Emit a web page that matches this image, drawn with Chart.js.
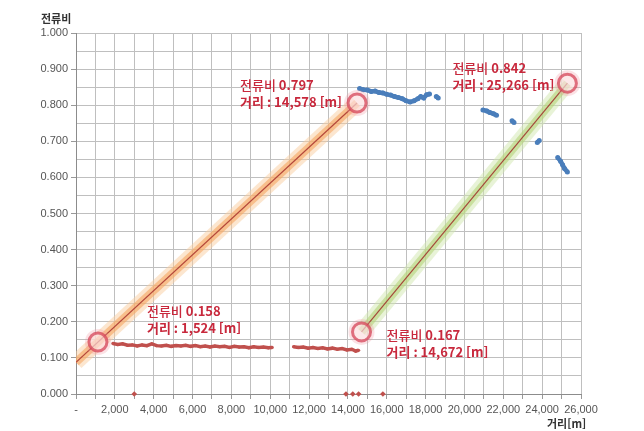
<!DOCTYPE html>
<html lang="ko">
<head>
    <meta charset="UTF-8">
    <title>전류비 - 거리</title>
    <style>
        html, body { margin: 0; padding: 0; background: #fff; }
        #wrap { width: 644px; height: 431px; }
    </style>
</head>
<body>
    <div id="wrap"><canvas id="chart" width="644" height="431"></canvas></div>

    <script src="https://cdn.jsdelivr.net/npm/chart.js"></script>
    <script>
        // 전류비 측정값 (빨강: 전반부, 파랑: 후반부)
        const redX = [1900, 2150, 2400, 2650, 2900, 3150, 3400, 3650, 3900, 4150, 4400, 4650, 4900, 5150, 5400, 5650, 5900,
            6150, 6400, 6650, 6900, 7150, 7400, 7650, 7900, 8150, 8400, 8650, 8900, 9150, 9400, 9650, 9900, 10100,
            10600,
            11200, 11450, 11700, 11950, 12200, 12450, 12700, 12950, 13200, 13450, 13700, 13950, 14200, 14400, 14550];
        const redY = [0.140, 0.137, 0.139, 0.135, 0.136, 0.133, 0.136, 0.134, 0.139, 0.134, 0.133, 0.135, 0.132, 0.134, 0.133, 0.135, 0.132,
            0.134, 0.131, 0.133, 0.130, 0.133, 0.131, 0.132, 0.129, 0.132, 0.130, 0.131, 0.128, 0.131, 0.129, 0.130, 0.128, 0.129,
            null,
            0.131, 0.129, 0.130, 0.127, 0.129, 0.126, 0.128, 0.125, 0.127, 0.124, 0.126, 0.122, 0.124, 0.119, 0.121];

        const zeroX = [3000, 13900, 14250, 14550, 15800];
        const zeroY = [0, 0, 0, 0, 0];

        const blueX = [14600, 14800, 15000, 15200, 15400, 15600, 15800, 16000, 16200, 16400, 16600, 16800, 17000, 17200, 17400,
            17600, 17750, 17900, 18050, 18200, 18400, 18550, 18650,
            19800, 20950, 21150, 21300, 21500, 21650, 22100, 22450, 22550, 23200, 23750, 23850, 24300, 24800, 24950, 25050, 25150, 25300];
        const blueY = [0.846, 0.843, 0.842, 0.838, 0.839, 0.835, 0.834, 0.830, 0.828, 0.824, 0.821, 0.818, 0.812, 0.809, 0.812,
            0.818, 0.824, 0.820, 0.829, 0.831, null, 0.824, 0.820,
            null, 0.787, 0.784, 0.780, 0.776, 0.772, null, 0.757, 0.752, null, 0.697, 0.702, null, 0.655, 0.645, 0.635, 0.625, 0.615];

        // 표시선 (시작점/끝점)
        const orangeX = [0, 14470];
        const orangeY = [0.088, 0.806];
        const greenX = [14700, 25300];
        const greenY = [0.172, 0.861];

        // 표시점과 설명
        const markX = [1130, 14470, 14700, 25300];
        const markY = [0.144, 0.806, 0.172, 0.861];
        const markRatio = ['0.158', '0.797', '0.167', '0.842'];
        const markDist = ['1,524', '14,578', '14,672', '25,266'];

        const xTickStep = 1000;
        const yTickStep = 0.05;

        const pts = (xs, ys) => xs.map((x, i) => ({ x: x, y: ys[i] }));

        const cjk = '"Noto Sans CJK KR", "Noto Sans", sans-serif';
        const red = '#c8283c';

        // 설명 글자 위치 (표시점 기준 px)
        const labelOffset = [[49, -31], [-117, -18], [25, 3], [-115, -15]];

        const textPlugin = {
            id: 'notes',
            beforeDatasetsDraw(chart) {
                const c = chart.ctx;
                const sx = chart.scales.x, sy = chart.scales.y;
                c.save();
                c.fillStyle = red;
                c.textBaseline = 'middle';
                markX.forEach((mx, i) => {
                    const px = sx.getPixelForValue(mx) + labelOffset[i][0];
                    const py = sy.getPixelForValue(markY[i]) + labelOffset[i][1];
                    c.font = '500 13px ' + cjk;
                    c.fillText('전류비 ', px, py);
                    const w = c.measureText('전류비 ').width;
                    c.font = 'bold 13px ' + cjk;
                    c.fillText(markRatio[i], px + w, py);
                    c.fillText('거리 : ' + markDist[i] + ' [m]', px, py + 17);
                });
                c.restore();
            },
            afterDraw(chart) {
                const c = chart.ctx;
                c.save();
                c.fillStyle = '#333';
                c.font = 'bold 11px ' + cjk;
                c.textBaseline = 'middle';
                c.textAlign = 'left';
                c.fillText('전류비', 41, 19);
                c.fillText('거리[m]', 547, 424);
                c.restore();
            }
        };

        new Chart(document.getElementById('chart'), {
            type: 'scatter',
            data: {
                datasets: [
                    {
                        data: pts(markX, markY),
                        showLine: false,
                        pointRadius: 9,
                        pointBorderWidth: 3,
                        pointBorderColor: 'rgba(214, 70, 90, 0.75)',
                        pointBackgroundColor: 'rgba(255, 236, 236, 0.55)',
                        order: 0
                    },
                    {
                        data: pts(markX, markY),
                        showLine: false,
                        pointRadius: 13,
                        pointBorderWidth: 0,
                        pointBackgroundColor: 'rgba(240, 150, 160, 0.28)',
                        order: 1
                    },
                    {
                        data: pts(orangeX, orangeY),
                        showLine: true,
                        borderColor: '#b4473a',
                        borderWidth: 1.2,
                        pointRadius: 0,
                        order: 2
                    },
                    {
                        data: pts(greenX, greenY),
                        showLine: true,
                        borderColor: '#a5483a',
                        borderWidth: 1.2,
                        pointRadius: 0,
                        order: 2
                    },
                    {
                        data: pts(orangeX, orangeY),
                        showLine: true,
                        borderColor: 'rgba(245, 165, 95, 0.6)',
                        borderWidth: 8,
                        pointRadius: 0,
                        order: 3
                    },
                    {
                        data: pts(orangeX, orangeY),
                        showLine: true,
                        borderColor: 'rgba(250, 205, 160, 0.5)',
                        borderWidth: 16,
                        pointRadius: 0,
                        order: 4
                    },
                    {
                        data: pts(greenX, greenY),
                        showLine: true,
                        borderColor: 'rgba(180, 212, 120, 0.6)',
                        borderWidth: 8,
                        pointRadius: 0,
                        order: 3
                    },
                    {
                        data: pts(greenX, greenY),
                        showLine: true,
                        borderColor: 'rgba(210, 232, 175, 0.5)',
                        borderWidth: 16,
                        pointRadius: 0,
                        order: 4
                    },
                    {
                        data: pts(redX, redY),
                        showLine: true,
                        spanGaps: false,
                        borderColor: '#c0504d',
                        borderWidth: 3.5,
                        pointRadius: 1.6,
                        pointBackgroundColor: '#c0504d',
                        pointBorderWidth: 0,
                        order: 5
                    },
                    {
                        data: pts(zeroX, zeroY),
                        showLine: false,
                        pointStyle: 'rectRot',
                        pointRadius: 2.8,
                        pointBackgroundColor: '#c0504d',
                        pointBorderWidth: 0,
                        clip: false,
                        order: 5
                    },
                    {
                        data: pts(blueX, blueY),
                        showLine: true,
                        spanGaps: false,
                        borderColor: '#4a7ebb',
                        borderWidth: 4.5,
                        pointRadius: 2.5,
                        pointBackgroundColor: '#4a7ebb',
                        pointBorderWidth: 0,
                        order: 5
                    }
                ]
            },
            options: {
                responsive: false,
                animation: false,
                layout: { padding: { top: 33, right: 63, left: 0, bottom: 0 } },
                plugins: {
                    legend: { display: false },
                    tooltip: { enabled: false }
                },
                scales: {
                    x: {
                        type: 'linear',
                        min: 0,
                        max: 26000,
                        afterFit(scale) { scale.height = 37; },
                        grid: { color: '#bfbfbf', tickLength: 5, tickColor: '#999' },
                        border: { color: '#8c8c8c' },
                        ticks: {
                            stepSize: xTickStep,
                            autoSkip: false,
                            maxRotation: 0,
                            padding: 4,
                            color: '#555',
                            font: { family: '"Liberation Sans", Arial, sans-serif', size: 11 },
                            callback: v => v === 0 ? '-' : (v % 2000 === 0 ? v.toLocaleString('en-US') : '')
                        }
                    },
                    y: {
                        min: 0,
                        max: 1,
                        afterFit(scale) { scale.width = 76; },
                        grid: {
                            color: '#bfbfbf',
                            tickLength: 5,
                            tickColor: ctx => (Math.round(ctx.tick.value * 100) % 10 === 0 ? '#999' : 'rgba(0,0,0,0)')
                        },
                        border: { color: '#8c8c8c' },
                        ticks: {
                            stepSize: yTickStep,
                            autoSkip: false,
                            padding: 3,
                            color: '#555',
                            font: { family: '"Liberation Sans", Arial, sans-serif', size: 11 },
                            callback: v => (Math.round(v * 100) % 10 === 0 ? v.toFixed(3) : '')
                        }
                    }
                }
            },
            plugins: [textPlugin]
        });
    </script>
</body>
</html>
